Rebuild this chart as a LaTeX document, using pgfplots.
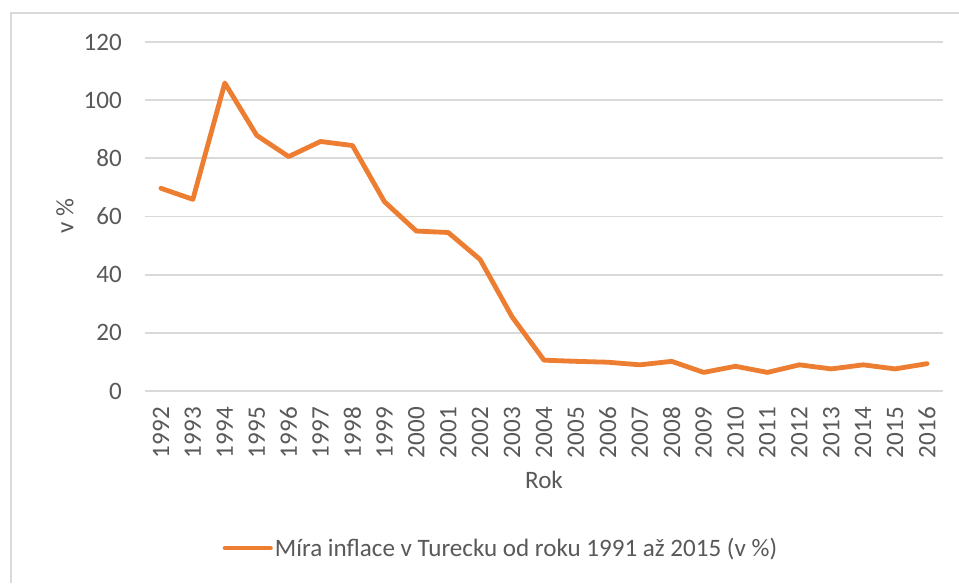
\documentclass[border=0pt]{standalone}
\usepackage{fontspec}
\setmainfont{Carlito}
\usepackage{pgfplots}
\pgfplotsset{compat=1.18}

\definecolor{exorange}{HTML}{ED7D31}
\definecolor{extext}{HTML}{595959}
\definecolor{exgrid}{HTML}{D9D9D9}

\begin{document}
\begin{tikzpicture}
% picture frame: 1px = 0.75pt, axis box lower-left at (0,0)
\useasboundingbox (-108.75pt,-144pt) rectangle (610.5pt,293.25pt);
\fill[white] (-108.75pt,-144pt) rectangle (610.5pt,293.25pt);
\draw[exgrid, line width=1.5pt] (-100.5pt,-144pt) -- (-100.5pt,283.5pt) -- (610.5pt,283.5pt);

\begin{axis}[
    at={(0,0)}, anchor=south west,
    scale only axis,
    width=598.5pt, height=261.75pt,
    font=\fontsize{18.8}{22}\selectfont,
    /pgf/number format/assume math mode=true,
    xmin=1991.5, xmax=2016.5,
    ymin=0, ymax=120,
    xtick={1992,...,2016},
    ytick={0,20,...,120},
    x tick label style={/pgf/number format/1000 sep=, rotate=90, anchor=east, inner sep=0pt, xshift=-12pt, text=extext},
    y tick label style={anchor=east, inner sep=0pt, xshift=-17.25pt, text=extext},
    ymajorgrids,
    grid style={exgrid, line width=1.3pt},
    axis line style={draw=none},
    major tick length=0pt,
    tick style={draw=none},
    xlabel={Rok},
    x label style={at={(axis description cs:0.5,0)}, anchor=center, yshift=-66.75pt, text=extext},
    ylabel={v \%},
    y label style={at={(axis description cs:0,0.5)}, anchor=center, yshift=60pt, text=extext},
    legend style={draw=none, fill=none, at={(axis description cs:0.446,-0.45)}, anchor=center,
        text=extext, font=\fontsize{18.8}{22}\selectfont, inner sep=0pt,
        nodes={inner sep=1.5pt},
        /tikz/every even column/.append style={column sep=0pt}},
    legend cell align=left,
    legend image code/.code={\draw[#1, line cap=round] (0pt,0pt) -- (34pt,0pt);},
]
\addplot[exorange, line width=3.6pt, line join=round, line cap=round] coordinates {
    (1992,69.7) (1993,65.9) (1994,105.9) (1995,87.9) (1996,80.6) (1997,85.8)
    (1998,84.4) (1999,65.1) (2000,55.0) (2001,54.5) (2002,45.2) (2003,25.5)
    (2004,10.6) (2005,10.2) (2006,9.9) (2007,9.0) (2008,10.2) (2009,6.4)
    (2010,8.5) (2011,6.4) (2012,9.0) (2013,7.6) (2014,9.0) (2015,7.6) (2016,9.4)
};
\addlegendentry{Míra inflace v Turecku od roku 1991 až 2015 (v \%)}
\end{axis}
\end{tikzpicture}
\end{document}
